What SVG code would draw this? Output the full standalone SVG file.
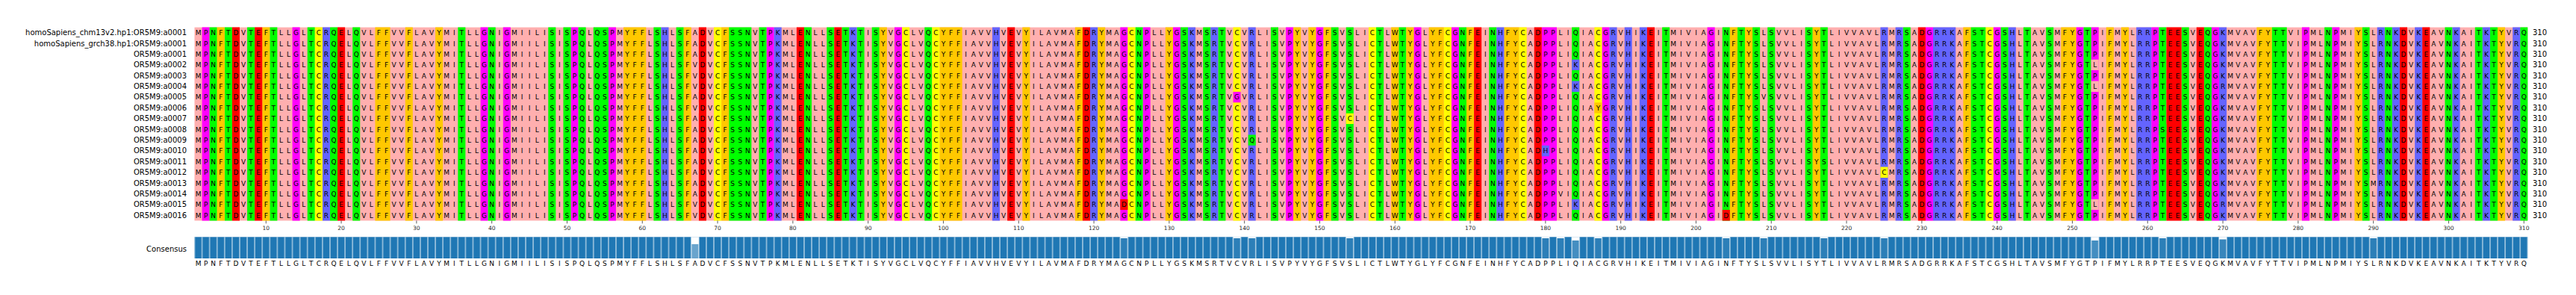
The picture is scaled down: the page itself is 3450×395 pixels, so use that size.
<svg xmlns="http://www.w3.org/2000/svg" xmlns:xlink="http://www.w3.org/1999/xlink" width="3450" height="395" viewBox="0 0 3450 395">
<style>
text{font-family:"DejaVu Sans",sans-serif}
.aa{font-size:9px;text-anchor:middle;fill:#000}
.lab{font-size:10px;text-anchor:end;fill:#000}
.num{font-size:10px;text-anchor:start;fill:#000}
.tk{font-size:7.5px;text-anchor:middle;fill:#262626}
.cpk{stroke:#ffafaf}.cmg{stroke:#ff00ff}.cgr{stroke:#00ff00}.cor{stroke:#ffc800}.cbl{stroke:#6464ff}.crd{stroke:#ff0000}.cye{stroke:#ffff00}
.col path{fill:none;stroke-width:1}
</style>
<defs>
<text id="seq" class="aa" x="265.54 275.62 285.7 295.78 305.86 315.94 326.02 336.1 346.18 356.26 366.34 376.42 386.5 396.58 406.66 416.74 426.82 436.9 446.98 457.06 467.14 477.22 487.3 497.38 507.46 517.54 527.62 537.7 547.78 557.86 567.94 578.02 588.1 598.18 608.26 618.34 628.42 638.5 648.58 658.66 668.74 678.82 688.9 698.98 709.06 719.14 729.22 739.3 749.38 759.46 769.54 779.62 789.7 799.78 809.86 819.94 830.02 840.1 850.18 860.26 870.34 880.42 890.5 900.58 910.66 920.74 930.82 940.9 950.98 961.06 971.14 981.22 991.3 1001.38 1011.46 1021.54 1031.62 1041.7 1051.78 1061.86 1071.94 1082.02 1092.1 1102.18 1112.26 1122.34 1132.42 1142.5 1152.58 1162.66 1172.74 1182.82 1192.9 1202.98 1213.06 1223.14 1233.22 1243.3 1253.38 1263.46 1273.54 1283.62 1293.7 1303.78 1313.86 1323.94 1334.02 1344.1 1354.18 1364.26 1374.34 1384.42 1394.5 1404.58 1414.66 1424.74 1434.82 1444.9 1454.98 1465.06 1475.14 1485.22 1495.3 1505.38 1515.46 1525.54 1535.62 1545.7 1555.78 1565.86 1575.94 1586.02 1596.1 1606.18 1616.26 1626.34 1636.42 1646.5 1656.58 1666.66 1676.74 1686.82 1696.9 1706.98 1717.06 1727.14 1737.22 1747.3 1757.38 1767.46 1777.54 1787.62 1797.7 1807.78 1817.86 1827.94 1838.02 1848.1 1858.18 1868.26 1878.34 1888.42 1898.5 1908.58 1918.66 1928.74 1938.82 1948.9 1958.98 1969.06 1979.14 1989.22 1999.3 2009.38 2019.46 2029.54 2039.62 2049.7 2059.78 2069.86 2079.94 2090.02 2100.1 2110.18 2120.26 2130.34 2140.42 2150.5 2160.58 2170.66 2180.74 2190.82 2200.9 2210.98 2221.06 2231.14 2241.22 2251.3 2261.38 2271.46 2281.54 2291.62 2301.7 2311.78 2321.86 2331.94 2342.02 2352.1 2362.18 2372.26 2382.34 2392.42 2402.5 2412.58 2422.66 2432.74 2442.82 2452.9 2462.98 2473.06 2483.14 2493.22 2503.3 2513.38 2523.46 2533.54 2543.62 2553.7 2563.78 2573.86 2583.94 2594.02 2604.1 2614.18 2624.26 2634.34 2644.42 2654.5 2664.58 2674.66 2684.74 2694.82 2704.9 2714.98 2725.06 2735.14 2745.22 2755.3 2765.38 2775.46 2785.54 2795.62 2805.7 2815.78 2825.86 2835.94 2846.02 2856.1 2866.18 2876.26 2886.34 2896.42 2906.5 2916.58 2926.66 2936.74 2946.82 2956.9 2966.98 2977.06 2987.14 2997.22 3007.3 3017.38 3027.46 3037.54 3047.62 3057.7 3067.78 3077.86 3087.94 3098.02 3108.1 3118.18 3128.26 3138.34 3148.42 3158.5 3168.58 3178.66 3188.74 3198.82 3208.9 3218.98 3229.06 3239.14 3249.22 3259.3 3269.38 3279.46 3289.54 3299.62 3309.7 3319.78 3329.86 3339.94 3350.02 3360.1 3370.18 3380.26">MPNFTDVTEFTLLGLTCRQELQVLFFVVFLAVYMITLLGNIGMIILISISPQLQSPMYFFLSHLSFADVCFSSNVTPKMLENLLSETKTISYVGCLVQCYFFIAVVHVEVYILAVMAFDRYMAGCNPLLYGSKMSRTVCVRLISVPYVYGFSVSLICTLWTYGLYFCGNFEINHFYCADPPLIQIACGRVHIKEITMIVIAGINFTYSLSVVLISYTLIVVAVLRMRSADGRRKAFSTCGSHLTAVSMFYGTPIFMYLRRPTEESVEQGKMVAVFYTTVIPMLNPMIYSLRNKDVKEAVNKAITKTYVRQ</text>
<pattern id="sep" patternUnits="userSpaceOnUse" x="260.5" y="0" width="10.08" height="400">
<rect x="0" y="0" width="0.45" height="400" fill="#ffffff"/>
<rect x="9.63" y="0" width="0.45" height="400" fill="#ffffff"/>
</pattern>
</defs>
<rect width="3450" height="395" fill="#ffffff"/>

<g id="columns" class="col" transform="translate(260.5 36.6) scale(10.08 258.84)">
<rect x="0" y="0" width="310" height="1" fill="#ffafaf"/>
<path class="cmg" d="M1.5 0v1M13.5 0v1M38.5 0v1M41.5 0v1M50.5 0v1M55.5 0v1M76.5 0v1M93.5 0v1M123.5 0v1M126.5 0v1M130.5 0v1M145.5 0v1M149.5 0v1M162.5 0v1M167.5 0v1M179.5 0v1M180.5 0v1M187.5 0v1M201.5 0v1M230.5 0v1M239.5 0v1M250.5 0v1M252.5 0v1M260.5 0v1M268.5 0v1M280.5 0v1M284.5 0v1"/>
<path class="cgr" d="M2.5 0v1M4.5 0v1M7.5 0v1M10.5 0v1M15.5 0v1M18.5 0v1M21.5 0v1M35.5 0v1M39.5 0v1M47.5 0v1M49.5 0v1M51.5 0v1M53.5 0v1M54.5 0v1M61.5 0v1M64.5 0v1M71.5 0v1M72.5 0v1M73.5 0v1M75.5 0v1M81.5 0v1M84.5 0v1M86.5 0v1M88.5 0v1M90.5 0v1M97.5 0v1M125.5 0v1M131.5 0v1M134.5 0v1M136.5 0v1M143.5 0v1M151.5 0v1M153.5 0v1M157.5 0v1M160.5 0v1M168.5 0v1M172.5 0v1M183.5 0v1M195.5 0v1M203.5 0v1M205.5 0v1M207.5 0v1M209.5 0v1M214.5 0v1M216.5 0v1M227.5 0v1M236.5 0v1M237.5 0v1M240.5 0v1M243.5 0v1M246.5 0v1M251.5 0v1M261.5 0v1M264.5 0v1M267.5 0v1M276.5 0v1M277.5 0v1M283.5 0v1M288.5 0v1M291.5 0v1M299.5 0v1M303.5 0v1M305.5 0v1M309.5 0v1"/>
<path class="cor" d="M3.5 0v1M9.5 0v1M24.5 0v1M25.5 0v1M28.5 0v1M32.5 0v1M57.5 0v1M58.5 0v1M59.5 0v1M65.5 0v1M70.5 0v1M91.5 0v1M99.5 0v1M100.5 0v1M101.5 0v1M110.5 0v1M117.5 0v1M120.5 0v1M129.5 0v1M146.5 0v1M148.5 0v1M150.5 0v1M159.5 0v1M161.5 0v1M164.5 0v1M165.5 0v1M169.5 0v1M174.5 0v1M175.5 0v1M204.5 0v1M206.5 0v1M215.5 0v1M235.5 0v1M248.5 0v1M249.5 0v1M254.5 0v1M256.5 0v1M274.5 0v1M275.5 0v1M287.5 0v1M306.5 0v1"/>
<path class="cbl" d="M17.5 0v1M62.5 0v1M77.5 0v1M87.5 0v1M106.5 0v1M119.5 0v1M132.5 0v1M135.5 0v1M140.5 0v1M173.5 0v1M188.5 0v1M190.5 0v1M192.5 0v1M224.5 0v1M226.5 0v1M231.5 0v1M232.5 0v1M233.5 0v1M241.5 0v1M258.5 0v1M259.5 0v1M269.5 0v1M290.5 0v1M292.5 0v1M295.5 0v1M300.5 0v1M304.5 0v1M308.5 0v1"/>
<path class="crd" d="M5.5 0v1M8.5 0v1M19.5 0v1M67.5 0v1M80.5 0v1M85.5 0v1M108.5 0v1M118.5 0v1M170.5 0v1M178.5 0v1M193.5 0v1M229.5 0v1M262.5 0v1M263.5 0v1M266.5 0v1M293.5 0v1M296.5 0v1"/>
<path class="cye" d="M16.5 0v1M69.5 0v1M94.5 0v1M98.5 0v1M124.5 0v1M138.5 0v1M156.5 0v1M166.5 0v1M176.5 0v1M186.5 0v1M238.5 0v1"/>
</g>

<g id="rows-text">
<use xlink:href="#seq" href="#seq" y="47.2"/>
<use xlink:href="#seq" href="#seq" y="61.58"/>
<use xlink:href="#seq" href="#seq" y="75.96"/>
<use xlink:href="#seq" href="#seq" y="90.34"/>
<use xlink:href="#seq" href="#seq" y="104.72"/>
<use xlink:href="#seq" href="#seq" y="119.1"/>
<use xlink:href="#seq" href="#seq" y="133.48"/>
<use xlink:href="#seq" href="#seq" y="147.86"/>
<use xlink:href="#seq" href="#seq" y="162.24"/>
<use xlink:href="#seq" href="#seq" y="176.62"/>
<use xlink:href="#seq" href="#seq" y="191"/>
<use xlink:href="#seq" href="#seq" y="205.38"/>
<use xlink:href="#seq" href="#seq" y="219.76"/>
<use xlink:href="#seq" href="#seq" y="234.14"/>
<use xlink:href="#seq" href="#seq" y="248.52"/>
<use xlink:href="#seq" href="#seq" y="262.9"/>
<use xlink:href="#seq" href="#seq" y="277.28"/>
<use xlink:href="#seq" href="#seq" y="291.66"/>
</g>

<g id="variant-cells" class="col" transform="translate(260.5 36.6) scale(10.08 14.38)">
<path class="cpk" d="M66.5 3v3M66.5 7v1M66.5 16v2M181.5 15v1M252.5 3v1M252.5 5v1M252.5 16v1M208.5 6v1M289.5 14v1"/>
<path class="cmg" d="M138.5 6v1"/>
<path class="cye" d="M153.5 8v1M224.5 13v1"/>
<path class="cgr" d="M140.5 10v1M216.5 12v1M261.5 9v1"/>
<path class="crd" d="M123.5 16v1M203.5 17v1"/>
<path class="cbl" d="M183.5 3v1M183.5 5v1M183.5 16v1M179.5 11v1M269.5 5v1M269.5 16v1"/>
<path class="cor" d="M186.5 7v1"/>
</g>
<g id="variant-letters" class="aa">
<text x="930.82" y="90.34">V</text><text x="930.82" y="104.72">V</text><text x="930.82" y="119.1">V</text><text x="930.82" y="147.86">V</text><text x="930.82" y="277.28">V</text><text x="930.82" y="291.66">V</text>
<text x="1505.38" y="277.28">D</text>
<text x="1656.58" y="133.48">G</text>
<text x="1676.74" y="191">Q</text>
<text x="1807.78" y="162.24">C</text>
<text x="2069.86" y="205.38">H</text>
<text x="2090.02" y="262.9">V</text>
<text x="2110.18" y="90.34">K</text><text x="2110.18" y="119.1">K</text><text x="2110.18" y="277.28">K</text>
<text x="2140.42" y="147.86">Y</text>
<text x="2311.78" y="291.66">D</text>
<text x="2362.18" y="133.48">V</text>
<text x="2442.82" y="219.76">S</text>
<text x="2523.46" y="234.14">C</text>
<text x="2805.7" y="90.34">L</text><text x="2805.7" y="119.1">L</text><text x="2805.7" y="277.28">L</text>
<text x="2896.42" y="176.62">S</text>
<text x="2977.06" y="119.1">R</text><text x="2977.06" y="277.28">R</text>
<text x="3178.66" y="248.52">M</text>
</g>

<g id="labels" class="lab">
<text x="250" y="47.2">homoSapiens_chm13v2.hp1:OR5M9:a0001</text>
<text x="250" y="61.58">homoSapiens_grch38.hp1:OR5M9:a0001</text>
<text x="250" y="75.96">OR5M9:a0001</text>
<text x="250" y="90.34">OR5M9:a0002</text>
<text x="250" y="104.72">OR5M9:a0003</text>
<text x="250" y="119.1">OR5M9:a0004</text>
<text x="250" y="133.48">OR5M9:a0005</text>
<text x="250" y="147.86">OR5M9:a0006</text>
<text x="250" y="162.24">OR5M9:a0007</text>
<text x="250" y="176.62">OR5M9:a0008</text>
<text x="250" y="191">OR5M9:a0009</text>
<text x="250" y="205.38">OR5M9:a0010</text>
<text x="250" y="219.76">OR5M9:a0011</text>
<text x="250" y="234.14">OR5M9:a0012</text>
<text x="250" y="248.52">OR5M9:a0013</text>
<text x="250" y="262.9">OR5M9:a0014</text>
<text x="250" y="277.28">OR5M9:a0015</text>
<text x="250" y="291.66">OR5M9:a0016</text>
<text x="250" y="337">Consensus</text>
</g>

<g id="lengths" class="num">
<text x="3392" y="47.2">310</text><text x="3392" y="61.58">310</text><text x="3392" y="75.96">310</text><text x="3392" y="90.34">310</text><text x="3392" y="104.72">310</text><text x="3392" y="119.1">310</text><text x="3392" y="133.48">310</text><text x="3392" y="147.86">310</text><text x="3392" y="162.24">310</text><text x="3392" y="176.62">310</text><text x="3392" y="191">310</text><text x="3392" y="205.38">310</text><text x="3392" y="219.76">310</text><text x="3392" y="234.14">310</text><text x="3392" y="248.52">310</text><text x="3392" y="262.9">310</text><text x="3392" y="277.28">310</text><text x="3392" y="291.66">310</text>
</g>

<g id="ticks">
<path fill="none" stroke="#333333" stroke-width="0.8" d="M356.26 295.4v3.9M457.06 295.4v3.9M557.86 295.4v3.9M658.66 295.4v3.9M759.46 295.4v3.9M860.26 295.4v3.9M961.06 295.4v3.9M1061.86 295.4v3.9M1162.66 295.4v3.9M1263.46 295.4v3.9M1364.26 295.4v3.9M1465.06 295.4v3.9M1565.86 295.4v3.9M1666.66 295.4v3.9M1767.46 295.4v3.9M1868.26 295.4v3.9M1969.06 295.4v3.9M2069.86 295.4v3.9M2170.66 295.4v3.9M2271.46 295.4v3.9M2372.26 295.4v3.9M2473.06 295.4v3.9M2573.86 295.4v3.9M2674.66 295.4v3.9M2775.46 295.4v3.9M2876.26 295.4v3.9M2977.06 295.4v3.9M3077.86 295.4v3.9M3178.66 295.4v3.9M3279.46 295.4v3.9M3380.26 295.4v3.9"/>
<g class="tk">
<text x="356.26" y="308">10</text><text x="457.06" y="308">20</text><text x="557.86" y="308">30</text><text x="658.66" y="308">40</text><text x="759.46" y="308">50</text><text x="860.26" y="308">60</text><text x="961.06" y="308">70</text><text x="1061.86" y="308">80</text><text x="1162.66" y="308">90</text><text x="1263.46" y="308">100</text><text x="1364.26" y="308">110</text><text x="1465.06" y="308">120</text><text x="1565.86" y="308">130</text><text x="1666.66" y="308">140</text><text x="1767.46" y="308">150</text><text x="1868.26" y="308">160</text><text x="1969.06" y="308">170</text><text x="2069.86" y="308">180</text><text x="2170.66" y="308">190</text><text x="2271.46" y="308">200</text><text x="2372.26" y="308">210</text><text x="2473.06" y="308">220</text><text x="2573.86" y="308">230</text><text x="2674.66" y="308">240</text><text x="2775.46" y="308">250</text><text x="2876.26" y="308">260</text><text x="2977.06" y="308">270</text><text x="3077.86" y="308">280</text><text x="3178.66" y="308">290</text><text x="3279.46" y="308">300</text><text x="3380.26" y="308">310</text>
</g>
</g>

<g id="consensus">
<rect x="260.5" y="317.3" width="3124.8" height="28.7" fill="#1f77b4"/>
<g class="col" transform="translate(260.5 0) scale(10.08 1)">
<path stroke="#ffffff" d="M66.5 317.3V346M123.5 317.3V346M138.5 317.3V346M140.5 317.3V346M153.5 317.3V346M179.5 317.3V346M181.5 317.3V346M183.5 317.3V346M186.5 317.3V346M203.5 317.3V346M208.5 317.3V346M216.5 317.3V346M224.5 317.3V346M252.5 317.3V346M261.5 317.3V346M269.5 317.3V346M289.5 317.3V346"/>
<path stroke="#2c7fb8" d="M123.5 318.9V346M138.5 318.9V346M140.5 318.9V346M153.5 318.9V346M179.5 318.9V346M181.5 318.9V346M186.5 318.9V346M203.5 318.9V346M208.5 318.9V346M216.5 318.9V346M224.5 318.9V346M261.5 318.9V346M289.5 318.9V346"/>
<path stroke="#3886bc" d="M269.5 320.5V346"/>
<path stroke="#448ec1" d="M183.5 322.1V346M252.5 322.1V346"/>
<path stroke="#6aa4cd" d="M66.5 326.9V346"/>
</g>
<rect x="260.5" y="317.3" width="3124.8" height="28.7" fill="url(#sep)"/>
<use xlink:href="#seq" href="#seq" y="356"/>
</g>
</svg>
